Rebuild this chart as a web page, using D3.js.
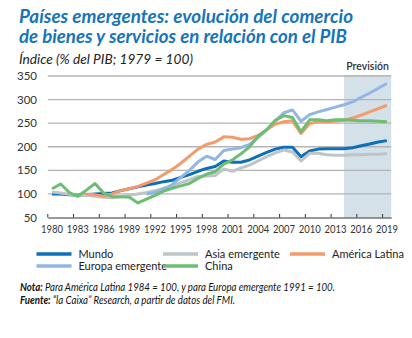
<!DOCTYPE html>
<html><head><meta charset="utf-8">
<script src="https://cdn.jsdelivr.net/npm/d3@7"></script>
<style>
  body { margin: 0; background: #fff; }
  svg { display: block; font-family: Lato, "Open Sans", sans-serif; }
</style>
</head><body>
<svg id="chart" width="412" height="338"></svg>
<script>
// Años del eje (índice, % del PIB; 1979 = 100)
const years = [1980,1981,1982,1983,1984,1985,1986,1987,1988,1989,
               1990,1991,1992,1993,1994,1995,1996,1997,1998,1999,
               2000,2001,2002,2003,2004,2005,2006,2007,2008,2009,
               2010,2011,2012,2013,2014,2015,2016,2017,2018,2019];
const tickYears = [1980,1983,1986,1989,1992,1995,1998,2001,2004,2007,2010,2013,2016,2019];
const yTicks = [50,100,150,200,250,300,350];
const forecastFrom = 2014;

const mundo  = [100,100,98,97,98,100,101,102,107,111,
                115,119,122,126,129,135,141,148,154,158,
                170,167,167,172,180,188,195,199,199,179,
                191,195,196,196,196,198,202,206,210,213];
const asia   = [104,102,99,96,97,95,93,92,94,97,
                100,103,107,112,117,124,130,137,138,139,
                153,148,155,161,170,179,187,193,189,170,
                186,186,183,182,182,183,183,184,184,185];
const latam  = [null,null,null,null,100,98,95,100,107,111,
                116,123,130,141,152,165,180,195,205,210,
                221,220,216,217,224,236,248,253,255,228,
                249,253,253,254,256,261,267,274,281,288];
const europa = [null,null,null,null,null,null,null,null,null,null,
                null,100,103,110,120,135,150,168,180,173,
                192,195,198,205,220,236,255,272,278,254,
                268,274,279,284,289,295,305,314,324,334];
const china  = [111,121,103,95,108,122,102,94,94,93,
                81,89,97,106,112,117,122,133,142,147,
                163,172,185,200,222,236,256,266,262,232,
                257,257,255,257,257,256,255,255,254,253];

const seriesNames  = ["Mundo","Asia emergente","América Latina","Europa emergente","China"];
const seriesValues = [mundo, asia, latam, europa, china];
const seriesColors = ["#0b6fba","#bec4c7","#f59a6b","#92b6e3","#6dbe73"];

const svg = d3.select("#chart");

const x = d3.scaleBand().domain(years).range([47.8, 391.2]).paddingInner(0).paddingOuter(0);
const cx = yr => x(yr) + x.bandwidth() / 2;
const y = d3.scaleLinear().domain([50, 350]).range([217.5, 76]);

// Títulos
svg.append("text").attr("x", 19).attr("y", 23)
  .attr("fill", "#1774bb").attr("font-size", 18).attr("font-weight", 700).attr("font-style", "italic")
  .attr("textLength", 334).attr("lengthAdjust", "spacingAndGlyphs")
  .text("Países emergentes: evolución del comercio");
svg.append("text").attr("x", 19).attr("y", 43)
  .attr("fill", "#1774bb").attr("font-size", 18).attr("font-weight", 700).attr("font-style", "italic")
  .attr("textLength", 328).attr("lengthAdjust", "spacingAndGlyphs")
  .text("de bienes y servicios en relación con el PIB");
svg.append("text").attr("x", 19).attr("y", 64)
  .attr("fill", "#222").attr("font-size", 13.5).attr("font-style", "italic")
  .attr("textLength", 174).attr("lengthAdjust", "spacingAndGlyphs")
  .text("Índice (% del PIB; 1979 = 100)");

// Zona de previsión
const xEnd = x.range()[1];
svg.append("rect")
  .attr("x", cx(forecastFrom)).attr("y", y(350) - 1)
  .attr("width", xEnd - cx(forecastFrom)).attr("height", y(50) - y(350) + 1)
  .attr("fill", "#d4e1e9");
svg.append("text").attr("x", (cx(forecastFrom) + xEnd) / 2).attr("y", 70)
  .attr("text-anchor", "middle").attr("font-size", 10.5).attr("font-weight", 600).attr("fill", "#333")
  .text("Previsión");

// Rejilla horizontal y etiquetas del eje Y
svg.append("g").selectAll("line").data(yTicks.filter(v => v > 50)).join("line")
  .attr("x1", x.range()[0]).attr("x2", xEnd)
  .attr("y1", d => y(d)).attr("y2", d => y(d))
  .attr("stroke", "#b4b4b4").attr("stroke-width", 1.3);
svg.append("g").selectAll("text").data(yTicks).join("text")
  .attr("x", 37).attr("y", d => y(d)).attr("dy", "0.35em")
  .attr("text-anchor", "end").attr("font-size", 11.5).attr("fill", "#333")
  .text(d => d);

// Eje X
const xAxis = svg.append("g").attr("transform", `translate(0,${y(50)})`)
  .call(d3.axisBottom(x).tickValues(tickYears).tickSize(0).tickPadding(8));
xAxis.select(".domain").attr("stroke", "#333").attr("stroke-width", 1);
xAxis.selectAll("text").attr("font-size", 11).attr("fill", "#333")
  .attr("font-family", "Lato, sans-serif")
  .attr("textLength", 22).attr("lengthAdjust", "spacingAndGlyphs");
svg.append("g").selectAll("line").data(tickYears).join("line")
  .attr("x1", d => x(d)).attr("x2", d => x(d))
  .attr("y1", y(50)).attr("y2", y(50) - 3.5)
  .attr("stroke", "#333").attr("stroke-width", 1);

// Series
const line = d3.line()
  .defined(d => d.v != null)
  .x(d => cx(d.yr)).y(d => y(d.v))
  .curve(d3.curveLinear);
seriesValues.forEach((vals, i) => {
  svg.append("path")
    .datum(years.map((yr, j) => ({ yr, v: vals[j] })))
    .attr("d", line)
    .attr("fill", "none")
    .attr("stroke", seriesColors[i])
    .attr("stroke-width", 3)
    .attr("stroke-linejoin", "round");
});

// Leyenda
const legendPos = [[36.5, 254], [163, 254], [290, 254], [36.5, 266], [163, 266]];
seriesNames.forEach((name, i) => {
  const [lx, ly] = legendPos[i];
  svg.append("line").attr("x1", lx).attr("x2", lx + 35).attr("y1", ly).attr("y2", ly)
    .attr("stroke", seriesColors[i]).attr("stroke-width", 3.5);
  svg.append("text").attr("x", lx + 42).attr("y", ly).attr("dy", "0.35em")
    .attr("font-size", 11).attr("fill", "#222").text(name);
});

// Notas
const nota = svg.append("text").attr("x", 20).attr("y", 291).attr("font-size", 10.5).attr("fill", "#111")
  .attr("font-style", "italic").attr("textLength", 315).attr("lengthAdjust", "spacingAndGlyphs");
nota.append("tspan").attr("font-weight", 700).text("Nota: ");
nota.append("tspan").text("Para América Latina 1984 = 100,  y para Europa emergente 1991 = 100.");
const fuente = svg.append("text").attr("x", 20).attr("y", 304).attr("font-size", 10.5).attr("fill", "#111")
  .attr("font-style", "italic").attr("textLength", 215).attr("lengthAdjust", "spacingAndGlyphs");
fuente.append("tspan").attr("font-weight", 700).text("Fuente: ");
fuente.append("tspan").text("“la Caixa” Research, a partir de datos del FMI.");
</script>
</body></html>
